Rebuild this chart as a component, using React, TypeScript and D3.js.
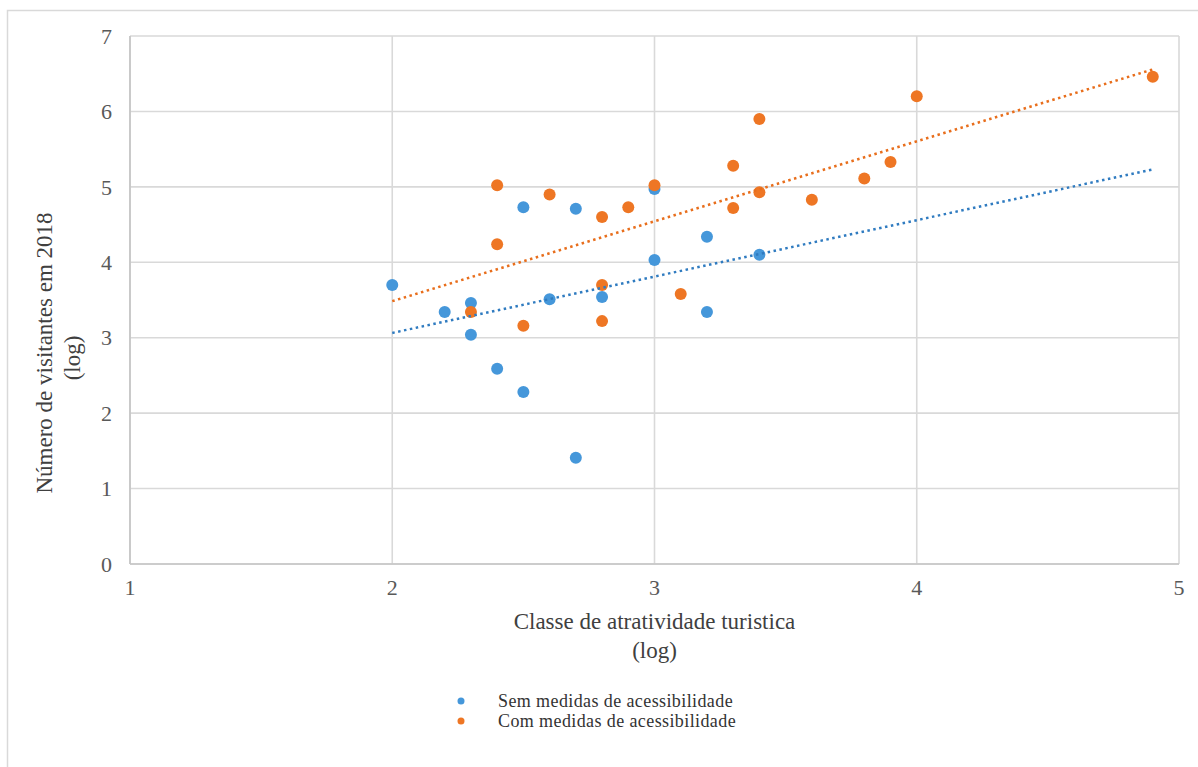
import React from 'react';
import * as d3 from 'd3';

const semX = [2.0, 2.2, 2.3, 2.3, 2.4, 2.5, 2.5, 2.6, 2.7, 2.7, 2.8, 3.0, 3.0, 3.2, 3.2, 3.4];
const semY = [3.70, 3.34, 3.46, 3.04, 2.59, 2.28, 4.73, 3.51, 4.71, 1.41, 3.54, 4.97, 4.03, 4.34, 3.34, 4.10];

const comX = [2.3, 2.4, 2.4, 2.5, 2.6, 2.8, 2.8, 2.8, 2.9, 3.0, 3.1, 3.3, 3.3, 3.4, 3.4, 3.6, 3.8, 3.9, 4.0, 4.9];
const comY = [3.34, 5.02, 4.24, 3.16, 4.90, 4.60, 3.70, 3.22, 4.73, 5.02, 3.58, 5.28, 4.72, 5.90, 4.93, 4.83, 5.11, 5.33, 6.20, 6.46];

const xTicks = [1, 2, 3, 4, 5];
const yTicks = [0, 1, 2, 3, 4, 5, 6, 7];

const seriesNames = ['Sem medidas de acessibilidade', 'Com medidas de acessibilidade'];
const xTitle = ['Classe de atratividade turistica', '(log)'];
const yTitle = ['Número de visitantes em 2018', '(log)'];

const W = 1198;
const H = 767;
const plot = { left: 130, right: 1179, top: 36, bottom: 564 };
const font = '"Liberation Serif", "Times New Roman", serif';

// least squares fit, same as excel's linear trendline
function fit(xs: number[], ys: number[]) {
  const mx = d3.mean(xs)!;
  const my = d3.mean(ys)!;
  let sxy = 0, sxx = 0;
  xs.forEach((x, i) => {
    sxy += (x - mx) * (ys[i] - my);
    sxx += (x - mx) * (x - mx);
  });
  const slope = sxy / sxx;
  return (x: number) => my + slope * (x - mx);
}

export default function App() {
  const x = d3.scaleLinear().domain([1, 5]).range([plot.left, plot.right]);
  const y = d3.scaleLinear().domain([0, 7]).range([plot.bottom, plot.top]);

  const allX = semX.concat(comX);
  const x0 = d3.min(allX)!;
  const x1 = d3.max(allX)!;

  const series = [
    { xs: semX, ys: semY, color: '#4597da', trend: '#2f7bc0' },
    { xs: comX, ys: comY, color: '#ee7624', trend: '#e86e1c' },
  ];

  const line = d3.line<number[]>().x(d => x(d[0])).y(d => y(d[1]));

  return (
    <div style={{ position: 'absolute', left: 0, top: 0 }}>
      <svg width={W} height={H} style={{ display: 'block', background: '#fff' }}>
        <rect x={7.5} y={10.5} width={W + 20} height={H + 20} fill="none" stroke="#d9d9d9" strokeWidth={1.5} />

        {yTicks.map(t => (
          <line key={'gy' + t} x1={plot.left} x2={plot.right} y1={y(t)} y2={y(t)} stroke="#d9d9d9" strokeWidth={1.6} />
        ))}
        {xTicks.map(t => (
          <line key={'gx' + t} x1={x(t)} x2={x(t)} y1={plot.top} y2={plot.bottom} stroke="#d9d9d9" strokeWidth={1.6} />
        ))}
        <line x1={plot.left} x2={plot.left} y1={plot.top} y2={plot.bottom} stroke="#c4c4c4" strokeWidth={1.6} />
        <line x1={plot.left} x2={plot.right} y1={plot.bottom} y2={plot.bottom} stroke="#c4c4c4" strokeWidth={1.6} />

        {yTicks.map(t => (
          <text key={'ty' + t} x={112} y={y(t)} dy="0.35em" textAnchor="end" fontFamily={font} fontSize={22} fill="#595959">
            {t}
          </text>
        ))}
        {xTicks.map(t => (
          <text key={'tx' + t} x={x(t)} y={595} textAnchor="middle" fontFamily={font} fontSize={22} fill="#595959">
            {t}
          </text>
        ))}

        {series.map((s, si) => (
          <g key={'s' + si}>
            {s.xs.map((v, i) => (
              <circle key={i} cx={x(v)} cy={y(s.ys[i])} r={6} fill={s.color} />
            ))}
          </g>
        ))}

        {series.map((s, si) => {
          const f = fit(s.xs, s.ys);
          return (
            <path
              key={'t' + si}
              d={line([[x0, f(x0)], [x1, f(x1)]])!}
              fill="none"
              stroke={s.trend}
              strokeWidth={2.5}
              strokeDasharray="2.5 3.5"
            />
          );
        })}

        <text x={(plot.left + plot.right) / 2} y={629} textAnchor="middle" fontFamily={font} fontSize={23} fill="#404040">
          {xTitle[0]}
        </text>
        <text x={(plot.left + plot.right) / 2} y={658} textAnchor="middle" fontFamily={font} fontSize={23} fill="#404040">
          {xTitle[1]}
        </text>

        <g transform="translate(52,353) rotate(-90)">
          <text x={0} y={0} textAnchor="middle" fontFamily={font} fontSize={23} fill="#404040">
            {yTitle[0]}
          </text>
        </g>
        <g transform="translate(80,358) rotate(-90)">
          <text x={0} y={0} textAnchor="middle" fontFamily={font} fontSize={23} fill="#404040">
            {yTitle[1]}
          </text>
        </g>

        {series.map((s, si) => (
          <g key={'l' + si} transform={`translate(461,${701 + si * 20})`}>
            <circle cx={0} cy={0} r={3.5} fill={s.color} />
            <text x={37} y={6} fontFamily={font} fontSize={18} letterSpacing={0.4} fill="#333">
              {seriesNames[si]}
            </text>
          </g>
        ))}
      </svg>
    </div>
  );
}
